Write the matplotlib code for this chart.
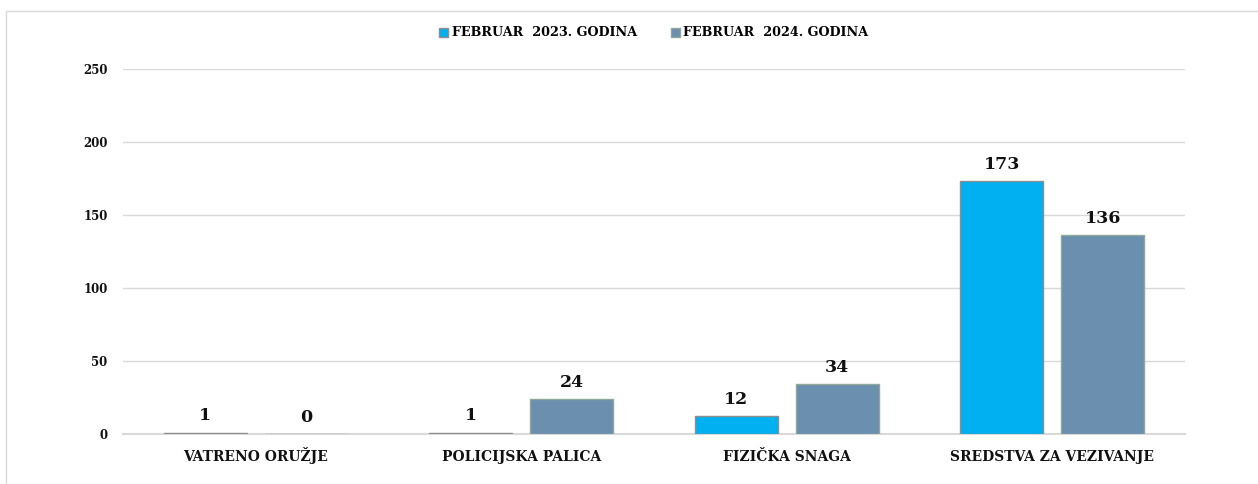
import matplotlib.pyplot as plt
import numpy as np
from matplotlib.patches import Rectangle

categories = ['VATRENO ORUŽJE', 'POLICIJSKA PALICA', 'FIZIČKA SNAGA', 'SREDSTVA ZA VEZIVANJE']
series_names = ['FEBRUAR  2023. GODINA', 'FEBRUAR  2024. GODINA']
values_2023 = [1, 1, 12, 173]
values_2024 = [0, 24, 34, 136]
colors = ['#00B0F0', '#6B8FAE']
edges = ['#8E8E8E', '#8FA89A']

plt.rcParams['font.family'] = ['DejaVu Serif']
plt.rcParams['font.weight'] = 'bold'

fig = plt.figure(figsize=(12.58, 4.84), dpi=100)
fig.patches.append(Rectangle((6 / 1258, -0.1), 1.2, 1 - 11 / 484 + 0.1, transform=fig.transFigure,
                             fill=False, edgecolor='#d9d9d9', lw=1))
ax = fig.add_axes([123 / 1258, 1 - 434 / 484, (1185 - 123) / 1258, (434 - 69) / 484])

x = np.arange(len(categories))
w = 0.313
off = 0.19
for i, (vals, name) in enumerate(zip([values_2023, values_2024], series_names)):
    pos = x + (-off if i == 0 else off)
    bars = ax.bar(pos, vals, w, color=colors[i], edgecolor=edges[i], linewidth=1, label=name, zorder=3)
    for b, v in zip(bars, vals):
        ax.annotate(str(v), (b.get_x() + b.get_width() / 2, v), xytext=(0, 6), textcoords='offset points',
                    ha='center', va='bottom', fontsize=12.5, fontweight='bold', color='#111111')

ax.set_xlim(-0.5, len(categories) - 0.5)
ax.set_ylim(0, 250)
ax.set_yticks(np.arange(0, 251, 50))
ax.grid(axis='y', color='#d9d9d9', lw=1, zorder=0)
ax.set_axisbelow(True)
for s in ['top', 'right', 'left']:
    ax.spines[s].set_visible(False)
ax.spines['bottom'].set_color('#d9d9d9')
ax.spines['bottom'].set_linewidth(1.5)
ax.tick_params(axis='y', length=0, pad=11, labelsize=8.5, colors='#111111')
ax.tick_params(axis='x', length=0, pad=19.4, labelsize=10, colors='#111111')
ax.set_xticks(x)
ax.set_xticklabels(categories, va='baseline')

ax.legend(loc='center', bbox_to_anchor=(0.5, 1 + 36 / 365), ncol=2, frameon=False, fontsize=9.2,
          handlelength=0.7, handleheight=0.7, handletextpad=0.3, columnspacing=2.6)

fig.savefig('out.png', dpi=100, facecolor='white')
